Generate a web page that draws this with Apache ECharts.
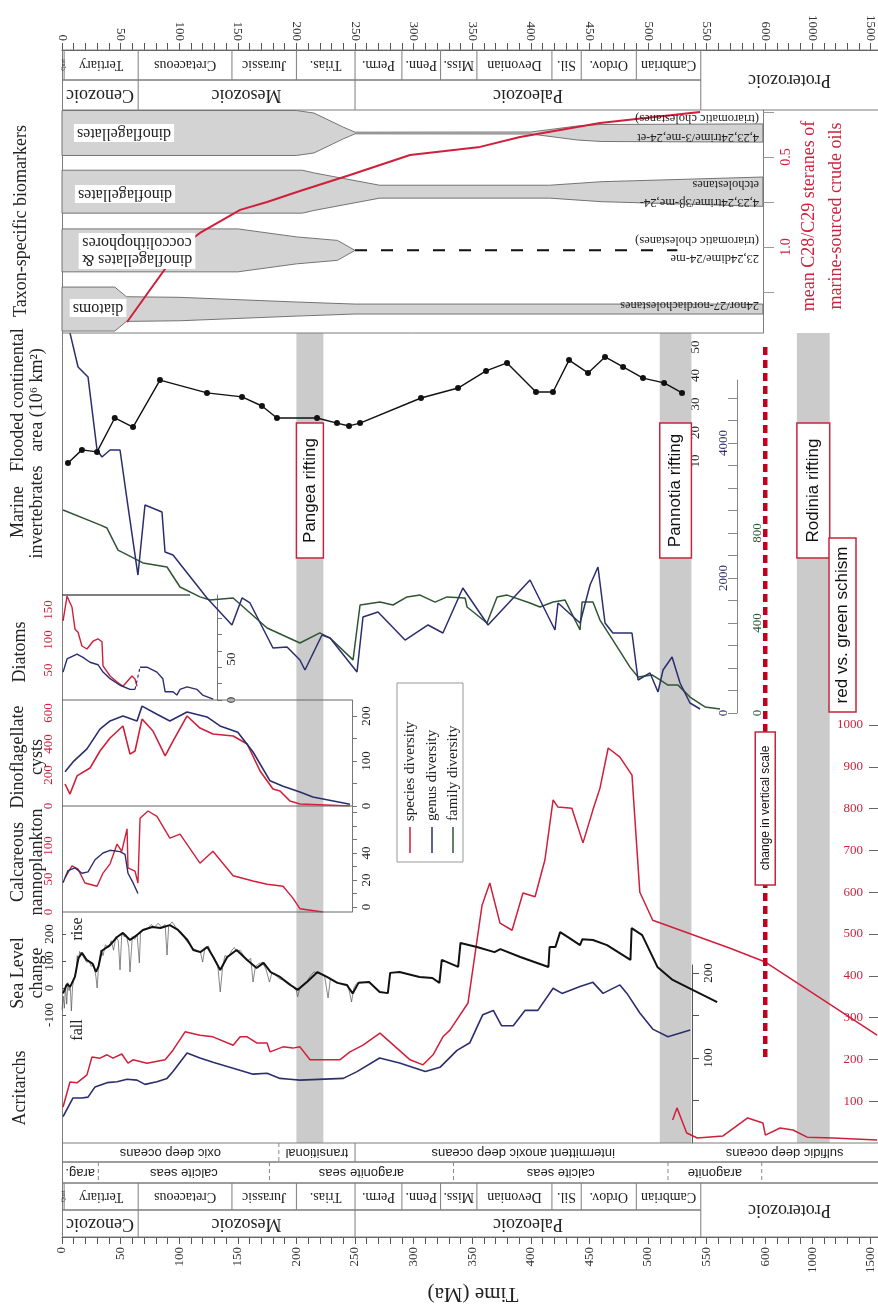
<!DOCTYPE html>
<html><head><meta charset="utf-8">
<script src="https://cdn.jsdelivr.net/npm/echarts@6/dist/echarts.min.js"></script>
<style>html,body{margin:0;padding:0;background:#fff}#c{width:878px;height:1310px}</style>
</head><body><div id="c"></div>
<script>
// ===================== DATA =====================
const timeTickLabels = [0,50,100,150,200,250,300,350,400,450,500,550,600,1000,1500];

const periods = [
  {name:'Quat', start:0, end:1.8},
  {name:'Tertiary', start:1.8, end:65},
  {name:'Cretaceous', start:65, end:145},
  {name:'Jurassic', start:145, end:200},
  {name:'Trias.', start:200, end:250},
  {name:'Perm.', start:250, end:290},
  {name:'Penn.', start:290, end:323},
  {name:'Miss.', start:323, end:354},
  {name:'Devonian', start:354, end:418},
  {name:'Sil.', start:418, end:443},
  {name:'Ordov.', start:443, end:490},
  {name:'Cambrian', start:490, end:545}
];
const eras = [
  {name:'Cenozoic', start:0, end:65},
  {name:'Mesozoic', start:65, end:250},
  {name:'Paleozoic', start:250, end:545},
  {name:'Proterozoic', start:545, end:1570, spansPeriods:true}
];
const oceanStates = [
  {name:'oxic deep oceans', start:0, end:185},
  {name:'transitional', start:185, end:250, div:'dash'},
  {name:'intermittent anoxic deep oceans', start:250, end:537},
  {name:'sulfidic deep oceans', start:537, end:1570, div:'none'}
];
const seaChemistry = [
  {name:'arag.', start:0, end:31},
  {name:'calcite seas', start:31, end:177, div:'dash'},
  {name:'aragonite seas', start:177, end:334, div:'dash'},
  {name:'calcite seas', start:334, end:517, div:'dash'},
  {name:'aragonite', start:517, end:597, div:'dash'},
  {name:'', start:597, end:1570, div:'dash'}
];
const rifts = [
  {name:'Pangea rifting', start:200, end:223},
  {name:'Pannotia rifting', start:510, end:537},
  {name:'Rodinia rifting', start:870, end:1150}
];
const scaleChangeAge = 600;

// biomarker bands: half-width (band units) vs age
const biomarkerBands = [
  {label:'dinoflagellates', w:[[0,0.383],[200,0.383],[215,0.34],[240,0.1],[250,0.014],[400,0.017],[440,0.12],[460,0.145],[598,0.155]]},
  {label:'dinoflagellates', w:[[0,0.366],[205,0.366],[215,0.32],[271,0.11],[416,0.11],[460,0.17],[598,0.25]]},
  {label:'dinoflagellates &\ncoccolithophores', w:[[0,0.366],[150,0.366],[200,0.23],[235,0.17],[250,0]]},
  {label:'diatoms', w:[[0,0.375],[45,0.375],[55,0.21],[100,0.2],[200,0.12],[250,0.085],[598,0.085]]}
];
const band3DashedRange = [250, 525];
const biomarkerRatio = [[55.5,1.417],[75,1.239],[100.7,1.006],[117.7,0.922],[152,0.794],[175,0.75],[203,0.689],[245.7,0.6],[297,0.489],[356.7,0.444],[390.8,0.389],[459,0.311],[544.4,0.25]];

const floodedArea = [[5.1,9.3],[17,13.9],[29.9,13.2],[45,25.1],[60.6,21.9],[83.6,38.4],[123.7,33.9],[153.6,32.5],[170.6,29.3],[183.4,25.1],[217.6,25.1],[234.6,23.3],[244.9,22.3],[254.3,23.3],[306.3,32.1],[337.9,35.6],[361.8,41.6],[379.7,44.4],[404.4,34.2],[418.9,34.2],[432.6,45.4],[448.8,40.9],[463.3,46.5],[478.7,43.0],[495.7,39.1],[513.7,37.4],[529,33.9]];

const invertGenus = [[6.8,5630],[13.7,5126],[22.2,4978],[29.9,3896],[34.1,3793],[41,3896],[49.5,3896],[55.5,3156],[64.8,2044],[70.8,3081],[85.3,2978],[87.9,2385],[94.7,2341],[123.7,1704],[145,1304],[153.6,1704],[160.4,1630],[180,963],[192,978],[203,785],[207.3,637],[221.8,1156],[228.7,1111],[251.7,607],[256.8,1422],[269.6,1496],[292.7,1081],[312.3,1304],[325,1185],[342,1852],[363.5,1304],[399.3,1970],[420.6,1230],[423.2,1630],[442,1333],[450.5,1896],[457.3,2163],[463.3,1333],[470,1185],[486.3,1185],[491.5,489],[501.7,593],[508.5,311],[512.8,637],[520.5,830],[527.3,444],[535.8,148],[544.4,59]];
const invertFamily = [[0.9,902],[32.4,836],[38.4,822],[47.8,724],[69.1,667],[89.6,649],[100.7,560],[117.7,516],[126.3,502],[146,511],[175,378],[203,311],[220,356],[228.7,333],[248.3,236],[254.3,480],[271.3,493],[282.4,480],[294.4,516],[305.5,524],[318.3,493],[328.5,516],[343.9,511],[345.6,471],[362.6,400],[371.2,516],[379.7,524],[399.3,489],[407.8,471],[419,493],[429.2,502],[442,369],[443.7,493],[453,493],[459,413],[470,324],[484.6,204],[491.5,160],[503.4,169],[510.2,147],[517,124],[525.6,124],[535.8,71],[548.6,27],[561.4,18]];

const diatomSpecies = [[0.9,132],[4.3,173],[8.5,155],[11.1,118],[13.7,113],[17,90],[21.3,85],[26.5,98],[30.7,102],[34.1,97],[35,57],[41,40],[47,30],[52,23],[59.7,40],[62.3,35],[64,23]];
const diatomGenusYoung = [[0.9,34],[4.3,50],[12.8,56],[17.9,52],[23.9,46],[30.7,43],[35,34],[41,26],[49.5,18],[58,13],[62.3,13]];
const diatomGenusOld = [[66.6,40],[72.5,40],[81,34],[86,26],[88,10],[94.7,10],[98,6],[100.7,13],[106.7,16],[115,13],[120,6],[129,1]];

const dinoSpecies = [[2.6,142],[6.8,77],[12.8,194],[23.9,245],[32.4,355],[41,439],[52,516],[58,335],[62.3,355],[68.3,561],[77.6,484],[88,323],[94.7,419],[106.7,581],[117.7,503],[128.8,465],[146,452],[158,400],[169,226],[180,110],[186,97],[194.5,32],[203,13],[245.7,0]];
const dinoGenus = [[2.6,76],[9.4,98],[21.3,127],[32.4,171],[41,189],[52,200],[64,189],[68.3,222],[81,204],[92,189],[106.7,209],[123.7,198],[134.8,178],[150,164],[163,120],[177.5,56],[188.6,44],[203,31],[214,20],[245.7,4]];

const nannoSpecies = [[2.6,52],[8.5,70],[13.7,65],[19.6,44],[29.9,39],[35,59],[41,73],[47,103],[51,92],[55.5,126],[56.3,67],[62.3,62],[64.8,44],[66.6,142],[73.4,153],[81,145],[92,112],[100.7,118],[117.7,74],[128.8,92],[146,55],[163,47],[175,42],[188.6,39],[197,21],[203,5],[222.7,0]];
const nannoGenus = [[0.9,18],[5.1,27],[11.1,29],[17,25],[22.2,26],[28.2,35],[35,40],[41,42],[49.5,41],[53.8,39],[56.3,25],[60.6,18],[64.8,10]];

const seaLevel = [[0.9,-20],[4.3,15],[7,5],[11,41],[14,110],[17,130],[21,104],[26,90],[29,60],[31,78],[34,138],[41,159],[47,189],[52,204],[58,178],[64,196],[69,215],[77,226],[84,222],[92,233],[99,215],[107,178],[112,141],[118,133],[124,152],[129,115],[135,67],[141,115],[149,141],[158,104],[166,74],[172,93],[178,59],[186,41],[195,11],[201,-7],[209,22],[218,59],[226,41],[235,19],[243,11],[248,-20],[253,19],[262,22],[271,-15],[278,-19],[280,56],[288,59],[305,41],[316,37],[322,19],[324,104],[338,78],[340,167],[354,152],[369,133],[374,144],[391,115],[415,78],[416,152],[421,152],[425,207],[433,185],[442,159],[444,181],[453,178],[465,159],[485,104],[486,222],[495,196],[508,78],[521,30],[538,-7],[559,-52]];
const seaLevelDetail = [[0,-80],[1,-30],[2,-75],[3,10],[4,-60],[5,20],[6,-10],[7,10],[8,-85],[9,5],[10,30],[12,60],[13,120],[14,100],[15,135],[17,125],[19,110],[21,95],[23,100],[25,80],[27,90],[29,40],[30,0],[31,70],[33,140],[35,120],[37,160],[40,150],[42,175],[44,140],[46,190],[48,175],[49.5,67],[51,200],[53,190],[55,195],[57,150],[58,59],[60,190],[62,180],[64,200],[66,93],[67,205],[70,215],[73,220],[76,235],[79,225],[82,240],[85,225],[88,235],[89.6,122],[91,230],[94,245],[97,225],[100,210],[103,200],[106,175],[109,160],[112,145],[115,140],[118,135],[120,96],[122,150],[125,155],[127,130],[130,110],[133,80],[135,-15],[137,75],[139,120],[142,115],[145,140],[147,150],[149,135],[152,140],[155,120],[158,100],[161,110],[163,22],[165,80],[168,90],[171,95],[174,70],[177,22],[179,55],[182,50],[185,35],[188,30],[191,20],[194,10],[197,5],[200,-10],[201,-33],[203,0],[206,15],[209,25],[212,45],[215,60],[218,55],[221,50],[224,45],[227,-37],[229,35],[232,25],[235,20],[238,15],[241,10],[244,12],[247,-52],[249,0],[251,15],[253,20]];

const acritarchSpecies = [[0.9,86],[6.8,146],[12.8,144],[21.3,163],[25.6,206],[32.4,203],[38.4,211],[43.5,203],[51,213],[56.3,191],[60.6,199],[72.5,191],[88,199],[94.7,222],[105,266],[117.7,258],[128.8,254],[146,234],[152,254],[158,254],[166.4,239],[175,239],[177.5,218],[188.6,230],[197,227],[203,230],[211.6,199],[237,199],[245.7,218],[256.8,234],[271.3,263],[297,199],[308,187],[316.6,211],[325,254],[331,270],[346.4,335],[358.4,569],[365,622],[373.7,526],[384,509],[393.3,598],[403.6,589],[412,677],[419,821],[423,804],[435,801],[444.5,718],[453,797],[459,849],[466,945],[476,923],[486.3,880],[493,600],[504,533],[570,466],[601,433],[1554,258]];
const acritarchSpeciesProterozoic = [[521,55],[524.7,84],[533,24],[542,12],[564,17],[585,60],[598,48],[601,19],[726,36],[837,31],[957,14],[1178,12],[1554,7]];
const acritarchGenus = [[0.9,31],[9.4,53],[17,53],[22.2,54],[28.2,66],[38.4,71],[47,72],[55.5,75],[64,74],[70.8,69],[81,72],[89.6,76],[94.7,84],[106.7,106],[117.7,100],[128.8,95],[146,88],[163,81],[175,82],[186,76],[194.5,75],[203,74],[240,76],[251.7,84],[271,100],[288,94],[310,84],[322.5,89],[337,109],[348,118],[359,151],[368,156],[375,138],[385,138],[395,156],[406,156],[419,182],[426.6,176],[442,184],[453,189],[461.6,176],[476,186],[482,176],[493,153],[504,134],[517,125],[536,133]];

// ===================== LAYOUT / STYLE =====================
const SERIF = '"Liberation Serif","Times New Roman",serif';
const SANS = '"Liberation Sans",Arial,sans-serif';
const RED = '#cf1f3a', NAVY = '#2b2e6e', GREEN = '#2f5533', BLK = '#111', FRAME = '#7d7d7d';
const BANDGRAY = '#cbcbcb', BIOFILL = '#d3d3d3';
const XMAX = 696.2;
function U(t){ return t <= 600 ? t : 600 + (t - 600) * 0.1; }
function xy(arr){ return arr.map(p => [U(p[0]), p[1]]); }
function tLabel(u){ return String(Math.round(u <= 600 ? u : 600 + (u - 600) * 10)); }
const majorU = timeTickLabels.map(U);
const minorU = [];
for (let t = 0; t <= 600; t += 10) minorU.push(t);
for (let t = 700; t <= 1500; t += 100) minorU.push(U(t));

const ROWS = {
  topPeriod:[50,80], topEra:[80,110], ocean:[1143,1162], seas:[1162,1183], botPeriod:[1183,1210], botEra:[1210,1237]
};
const RIFT_Y = [333, 1143];
const RIFT_LABEL_Y = [423, 558];

function G(top, height){ return {left:62, width:816, top:top, height:height}; }

function yAx(o){
  const base = {type:'value', splitLine:{show:false}, axisLine:{show:false, onZero:false}, axisTick:{show:false}, axisLabel:{show:false}};
  const r = Object.assign({}, base, o);
  r.axisLine = Object.assign({show:false, onZero:false}, o.axisLine || {});
  return r;
}
function lbl(o){ return Object.assign({show:true, fontFamily:SERIF, fontSize:13, color:'#222', formatter:v => String(v)}, o); }

function rowSeries(list, placements, font, z){
  return {
    type:'custom', xAxisIndex:0, yAxisIndex:0, z:z||5, silent:true, clip:false,
    data: list.map(c => [U(c.start), U(c.end)]),
    renderItem: function(params, api){
      const c = list[params.dataIndex];
      const xa = api.coord([api.value(0), 0])[0];
      const xb = Math.min(api.coord([api.value(1), 0])[0], 878);
      const kids = [];
      placements.forEach(p => {
        const ya = c.spansPeriods ? p.span[0] : p.y[0];
        const yb = c.spansPeriods ? p.span[1] : p.y[1];
        kids.push({type:'line', shape:{x1:xa, y1:yb, x2:xb, y2:yb}, style:{stroke:FRAME, lineWidth:1}});
        kids.push({type:'line', shape:{x1:xa, y1:ya, x2:xb, y2:ya}, style:{stroke:FRAME, lineWidth:1}});
        const div = c.div || 'solid';
        if (c.start > 0 && div !== 'none') {
          kids.push({type:'line', shape:{x1:xa, y1:ya, x2:xa, y2:yb},
            style:{stroke: div === 'dash' ? '#888' : FRAME, lineWidth:1, lineDash: div === 'dash' ? [4,3] : null}});
        }
        if (c.name) {
          const small = c.name === 'Quat';
          kids.push({type:'text', x:(xa + xb) / 2, y:(ya + yb) / 2, rotation: small ? Math.PI / 2 : Math.PI,
            style:{text:c.name, font: small ? ('6px ' + SERIF) : font, fill:'#222', align:'center', verticalAlign:'middle'}});
        }
      });
      return {type:'group', children:kids};
    }
  };
}

const bandCenter = i => i + 0.5;

const option = {
  animation:false,
  backgroundColor:'#fff',
  grid:[G(50,1187), G(110,223), G(347,114), G(380,333), G(595,105), G(700,106), G(806,106), G(912,120), G(725,418), G(965,178)],
  xAxis:[
    {type:'value', gridIndex:0, position:'top', min:0, max:XMAX, splitLine:{show:false},
      axisLine:{show:true, onZero:false, lineStyle:{color:'#555'}},
      axisTick:{show:true, customValues:minorU, length:7, lineStyle:{color:'#555'}},
      axisLabel:lbl({customValues:majorU, rotate:90, formatter:tLabel, margin:9, color:'#333'})},
    {type:'value', gridIndex:0, position:'bottom', min:0, max:XMAX, splitLine:{show:false},
      axisLine:{show:true, onZero:false, lineStyle:{color:'#555'}},
      axisTick:{show:true, customValues:minorU, length:7, lineStyle:{color:'#555'}},
      axisLabel:lbl({customValues:majorU, rotate:90, formatter:tLabel, margin:10, color:'#333'})}
  ].concat([1,2,3,4,5,6,7,8,9].map(i => ({type:'value', gridIndex:i, min:0, max:XMAX, show:false}))),
  yAxis:[
    yAx({gridIndex:0, min:0, max:1187, inverse:true, position:'left', axisLine:{show:true, lineStyle:{color:FRAME}}}),
    yAx({gridIndex:1, min:0.108, max:3.908, inverse:true, show:false}),
    yAx({gridIndex:1, min:0.239, max:1.478, inverse:true, position:'right', offset:-115,
      axisLine:{show:true, lineStyle:{color:FRAME}},
      axisTick:{show:true, customValues:[0.25,0.5,0.75,1,1.25], length:11, lineStyle:{color:'#999'}},
      axisLabel:lbl({customValues:[0.5,1], formatter:v => v.toFixed(1), rotate:90, color:RED, fontSize:14, margin:16})}),
    yAx({gridIndex:2, min:10, max:50, position:'right', offset:-192,
      axisTick:{show:true, customValues:[10,20,30,40,50], length:5, lineStyle:{color:'#444'}},
      axisLabel:lbl({customValues:[10,20,30,40,50], rotate:90, margin:3})}),
    yAx({gridIndex:3, min:0, max:4933, position:'right', offset:-141,
      axisLine:{show:true, lineStyle:{color:'#888'}},
      axisLabel:lbl({customValues:[0,2000,4000], inside:true, rotate:90, color:NAVY, margin:7})}),
    yAx({gridIndex:3, min:0, max:1480, position:'right', offset:-141,
      axisTick:{show:true, inside:true, length:9, customValues:[0,100,200,300,400,500,600,700,800,900,1000,1100,1200,1300,1400], lineStyle:{color:'#888'}},
      axisLabel:lbl({customValues:[0,400,800], rotate:90, color:GREEN, margin:14})}),
    yAx({gridIndex:4, min:0, max:175, position:'left',
      axisLabel:lbl({customValues:[50,100,150], rotate:90, color:RED, margin:7})}),
    yAx({gridIndex:4, min:0, max:128, position:'right', offset:-661,
      axisLine:{show:true, lineStyle:{color:'#777'}},
      axisTick:{show:true, customValues:[0,20,40,60,80,100], length:5, lineStyle:{color:'#777'}},
      axisLabel:lbl({customValues:[0,50], rotate:90, margin:8})}),
    yAx({gridIndex:5, min:0, max:684, position:'left',
      axisLabel:lbl({customValues:[0,200,400,600], rotate:90, color:RED, margin:7})}),
    yAx({gridIndex:5, min:0, max:235.6, position:'right', offset:-526,
      axisLine:{show:true, lineStyle:{color:'#777'}},
      axisTick:{show:true, customValues:[0,50,100,150,200], length:5, lineStyle:{color:'#777'}},
      axisLabel:lbl({customValues:[0,100,200], rotate:90, margin:8})}),
    yAx({gridIndex:6, min:0, max:160.6, position:'left',
      axisLabel:lbl({customValues:[0,50,100], rotate:90, color:RED, margin:7})}),
    yAx({gridIndex:6, min:-3.7, max:74.8, position:'right', offset:-526,
      axisLine:{show:true, lineStyle:{color:'#777'}},
      axisTick:{show:true, customValues:[0,10,20,30,40,50,60,70], length:5, lineStyle:{color:'#777'}},
      axisLabel:lbl({customValues:[0,20,40], rotate:90, margin:8})}),
    yAx({gridIndex:7, min:-163, max:281.5, position:'left',
      axisTick:{show:true, inside:true, length:4, customValues:[-100,0,100,200], lineStyle:{color:'#555'}},
      axisLabel:lbl({customValues:[-100,0,100,200], rotate:90, margin:6})}),
    yAx({gridIndex:8, min:0, max:1000, position:'right',
      axisTick:{show:true, inside:true, length:9, customValues:[100,200,300,400,500,600,700,800,900,1000], lineStyle:{color:'#666'}},
      axisLabel:lbl({customValues:[100,200,300,400,500,600,700,800,900,1000], inside:true, color:RED, margin:15})}),
    yAx({gridIndex:9, min:0, max:209.4, position:'right', offset:-186,
      axisLine:{show:true, lineStyle:{color:'#555'}},
      axisTick:{show:true, length:7, customValues:[50,100,150,200], lineStyle:{color:'#555'}},
      axisLabel:lbl({customValues:[100,200], rotate:90, margin:10})})
  ],
  series:[]
};

const S = option.series;
// rifting bands
S.push({type:'custom', xAxisIndex:0, yAxisIndex:0, z:1, silent:true, clip:false,
  data: rifts.map(r => [U(r.start), U(r.end)]),
  renderItem:(params, api) => {
    const x0 = api.coord([api.value(0),0])[0], x1 = api.coord([api.value(1),0])[0];
    return {type:'rect', shape:{x:x0, y:RIFT_Y[0], width:x1-x0, height:RIFT_Y[1]-RIFT_Y[0]}, style:{fill:BANDGRAY}};
  }});
// rift labels
S.push({type:'custom', xAxisIndex:0, yAxisIndex:0, z:30, silent:true, clip:false,
  data: rifts.map(r => [U(r.start), U(r.end)]),
  renderItem:(params, api) => {
    const r = rifts[params.dataIndex];
    const x0 = api.coord([api.value(0),0])[0], x1 = api.coord([api.value(1),0])[0];
    return {type:'group', children:[
      {type:'rect', shape:{x:x0, y:RIFT_LABEL_Y[0], width:x1-x0, height:RIFT_LABEL_Y[1]-RIFT_LABEL_Y[0]}, style:{fill:'#fff', stroke:'#c2283a', lineWidth:1.5}},
      {type:'text', x:(x0+x1)/2, y:(RIFT_LABEL_Y[0]+RIFT_LABEL_Y[1])/2, rotation:Math.PI/2,
        style:{text:r.name, font:'17px ' + SANS, fill:'#111', align:'center', verticalAlign:'middle'}}
    ]};
  }});
// change in vertical scale
S.push({type:'custom', xAxisIndex:0, yAxisIndex:0, z:31, silent:true, clip:false,
  data:[[U(scaleChangeAge)]],
  renderItem:(params, api) => {
    const x = api.coord([api.value(0),0])[0];
    return {type:'group', children:[
      {type:'line', shape:{x1:x, y1:347, x2:x, y2:1060}, style:{stroke:'#c0001c', lineWidth:4.5, lineDash:[8,5]}},
      {type:'rect', shape:{x:x-10, y:732, width:20, height:153}, style:{fill:'#fff', stroke:'#c2283a', lineWidth:1.5}},
      {type:'text', x:x, y:808, rotation:Math.PI/2, style:{text:'change in vertical scale', font:'12px ' + SANS, fill:'#111', align:'center', verticalAlign:'middle'}}
    ]};
  }});
// geological rows
S.push(rowSeries(periods, [{y:ROWS.topPeriod}, {y:ROWS.botPeriod}], '14px ' + SERIF));
S.push(rowSeries(eras, [{y:ROWS.topEra, span:[ROWS.topPeriod[0], ROWS.topEra[1]]}, {y:ROWS.botEra, span:[ROWS.botPeriod[0], ROWS.botEra[1]]}], '18px ' + SERIF));
S.push(rowSeries(oceanStates, [{y:ROWS.ocean}], '13px ' + SANS));
S.push(rowSeries(seaChemistry, [{y:ROWS.seas}], '13px ' + SANS));

// biomarker bands
S.push({type:'custom', xAxisIndex:2, yAxisIndex:1, z:3, silent:true,
  data: biomarkerBands.map((b, i) => [i]),
  renderItem:(params, api) => {
    const b = biomarkerBands[params.dataIndex];
    const c = bandCenter(params.dataIndex);
    const top = b.w.map(p => api.coord([U(p[0]), c - p[1]]));
    const bot = b.w.slice().reverse().map(p => api.coord([U(p[0]), c + p[1]]));
    return {type:'polygon', shape:{points: top.concat(bot)}, style:{fill:BIOFILL, stroke:'#666', lineWidth:0.9}};
  }});
S.push({type:'line', xAxisIndex:2, yAxisIndex:1, z:3, showSymbol:false, silent:true,
  data: band3DashedRange.map(t => [U(t), bandCenter(2)]), lineStyle:{color:'#111', width:2, type:[12,14]}});
S.push({type:'line', xAxisIndex:2, yAxisIndex:2, z:6, showSymbol:false, data:xy(biomarkerRatio), lineStyle:{color:RED, width:2}});

// flooded continental area
S.push({type:'line', xAxisIndex:3, yAxisIndex:3, z:6, clip:false, data:xy(floodedArea), symbol:'circle', symbolSize:6,
  itemStyle:{color:BLK}, lineStyle:{color:BLK, width:1.4}});
// marine invertebrates
S.push({type:'line', xAxisIndex:4, yAxisIndex:5, z:4, clip:false, showSymbol:false, data:xy(invertFamily), lineStyle:{color:GREEN, width:1.5}});
S.push({type:'line', xAxisIndex:4, yAxisIndex:4, z:4, clip:false, showSymbol:false, data:xy(invertGenus), lineStyle:{color:NAVY, width:1.5}});
// diatoms
S.push({type:'line', xAxisIndex:5, yAxisIndex:6, z:4, showSymbol:false, data:xy(diatomSpecies), lineStyle:{color:RED, width:1.4}});
S.push({type:'line', xAxisIndex:5, yAxisIndex:7, z:4, showSymbol:false, data:xy(diatomGenusYoung), lineStyle:{color:NAVY, width:1.4}});
S.push({type:'line', xAxisIndex:5, yAxisIndex:7, z:4, showSymbol:false, data:xy([diatomGenusYoung[diatomGenusYoung.length-1], diatomGenusOld[0]]), lineStyle:{color:NAVY, width:1.2, type:[3,3]}});
S.push({type:'line', xAxisIndex:5, yAxisIndex:7, z:4, showSymbol:false, data:xy(diatomGenusOld), lineStyle:{color:NAVY, width:1.4}});
// dinoflagellates
S.push({type:'line', xAxisIndex:6, yAxisIndex:8, z:4, showSymbol:false, data:xy(dinoSpecies), lineStyle:{color:RED, width:1.6}});
S.push({type:'line', xAxisIndex:6, yAxisIndex:9, z:4, showSymbol:false, data:xy(dinoGenus), lineStyle:{color:NAVY, width:1.6}});
// nannoplankton
S.push({type:'line', xAxisIndex:7, yAxisIndex:10, z:4, showSymbol:false, data:xy(nannoSpecies), lineStyle:{color:RED, width:1.4}});
S.push({type:'line', xAxisIndex:7, yAxisIndex:11, z:4, showSymbol:false, data:xy(nannoGenus), lineStyle:{color:NAVY, width:1.4}});
// sea level
S.push({type:'line', xAxisIndex:8, yAxisIndex:12, z:4, showSymbol:false, data:xy(seaLevelDetail), lineStyle:{color:'#555', width:0.7}});
S.push({type:'line', xAxisIndex:8, yAxisIndex:12, z:5, showSymbol:false, data:xy(seaLevel), lineStyle:{color:BLK, width:2}});
// acritarchs
S.push({type:'line', xAxisIndex:9, yAxisIndex:13, z:4, showSymbol:false, data:xy(acritarchSpecies), lineStyle:{color:RED, width:1.5}});
S.push({type:'line', xAxisIndex:9, yAxisIndex:13, z:4, showSymbol:false, data:xy(acritarchSpeciesProterozoic), lineStyle:{color:RED, width:1.5}});
S.push({type:'line', xAxisIndex:10, yAxisIndex:14, z:4, showSymbol:false, data:xy(acritarchGenus), lineStyle:{color:NAVY, width:1.6}});

// ===================== TEXT / DECOR =====================
function T(x, y, text, o){
  o = o || {};
  const st = {text:text, font:o.font || ('18px ' + SERIF), fill:o.fill || '#222', align:o.align || 'center', verticalAlign:o.va || 'middle'};
  if (o.lh) st.lineHeight = o.lh;
  if (o.bg) { st.backgroundColor = o.bg; st.padding = o.pad || [1,3]; }
  return {type:'text', x:x, y:y, rotation:o.rot || 0, z:100, silent:true, style:st};
}
function L(x1, y1, x2, y2, o){
  o = o || {};
  return {type:'line', z:101, silent:true, shape:{x1:x1,y1:y1,x2:x2,y2:y2}, style:{stroke:o.c || '#666', lineWidth:o.w || 1}};
}
const R90 = Math.PI / 2, R180 = Math.PI;
const graphics = [
  T(21, 221, 'Taxon-specific biomarkers', {rot:R90}),
  T(28, 400, 'Flooded continental\narea (10\u2076 km\u00b2)', {rot:R90, lh:19}),
  T(28, 512, 'Marine\ninvertebrates', {rot:R90, lh:19}),
  T(20, 652, 'Diatoms', {rot:R90}),
  T(28, 757, 'Dinoflagellate\ncysts', {rot:R90, lh:19}),
  T(28, 862, 'Calcareous\nnannoplankton', {rot:R90, lh:19}),
  T(28, 973, 'Sea Level\nchange', {rot:R90, lh:19}),
  T(20, 1088, 'Acritarchs', {rot:R90}),
  T(78, 929, 'rise', {rot:R90, font:'16px ' + SERIF}),
  T(78, 1030, 'fall', {rot:R90, font:'16px ' + SERIF}),
  T(823, 216, 'mean C28/C29 steranes of\nmarine-sourced crude oils', {rot:R90, fill:RED, lh:27}),
  T(473, 1294, 'Time (Ma)', {rot:R180, font:'21px ' + SERIF}),
  T(124, 133, biomarkerBands[0].label, {rot:R180, font:'16px ' + SERIF, bg:'#fff'}),
  T(125, 194, biomarkerBands[1].label, {rot:R180, font:'16px ' + SERIF, bg:'#fff'}),
  T(137, 251, biomarkerBands[2].label, {rot:R180, font:'16px ' + SERIF, bg:'#fff', lh:17}),
  T(98, 308, biomarkerBands[3].label, {rot:R180, font:'16px ' + SERIF, bg:'#fff'}),
  T(759, 137, '4,23,24trime/3-me,24-et', {rot:R180, align:'left', font:'12.5px ' + SERIF}),
  T(759, 118, '(triaromatic cholestanes)', {rot:R180, align:'left', font:'12.5px ' + SERIF}),
  T(759, 202, '4,23,24trime/3\u03b2-me,24-', {rot:R180, align:'left', font:'12.5px ' + SERIF}),
  T(759, 184, 'etcholestanes', {rot:R180, align:'left', font:'12.5px ' + SERIF}),
  T(759, 258, '23,24dime/24-me', {rot:R180, align:'left', font:'12.5px ' + SERIF}),
  T(759, 240, '(triaromatic cholestanes)', {rot:R180, align:'left', font:'12.5px ' + SERIF}),
  T(759, 305, '24nor/27-nordiacholestanes', {rot:R180, align:'left', font:'12.5px ' + SERIF}),
  L(62, 333, 763, 333, {c:FRAME}),
  L(62, 595, 190, 595, {c:'#555', w:1.4}),
  L(62, 700, 352, 700, {c:'#666'}),
  L(62, 806, 352, 806, {c:'#666'}),
  L(62, 912, 352, 912, {c:'#666'}),
  {type:'rect', z:100, silent:true, shape:{x:829, y:538, width:27, height:174}, style:{fill:'#fff', stroke:'#c2283a', lineWidth:1.5}},
  T(842.5, 625, 'red vs. green schism', {rot:R90, font:'17px ' + SANS, fill:'#111'}),
  {type:'rect', z:100, silent:true, shape:{x:397, y:683, width:66, height:179}, style:{fill:'#fff', stroke:'#999', lineWidth:1}},
  L(410, 827, 410, 853, {c:RED, w:1.5}),
  L(432, 827, 432, 853, {c:NAVY, w:1.5}),
  L(453, 827, 453, 853, {c:GREEN, w:1.5}),
  T(410, 821, 'species diversity', {rot:R90, align:'left', font:'15px ' + SERIF}),
  T(432, 821, 'genus diversity', {rot:R90, align:'left', font:'15px ' + SERIF}),
  T(453, 821, 'family diversity', {rot:R90, align:'left', font:'15px ' + SERIF})
];
option.graphic = graphics;

const chart = echarts.init(document.getElementById('c'), null, {renderer:'canvas'});
chart.setOption(option);
</script>
</body></html>
